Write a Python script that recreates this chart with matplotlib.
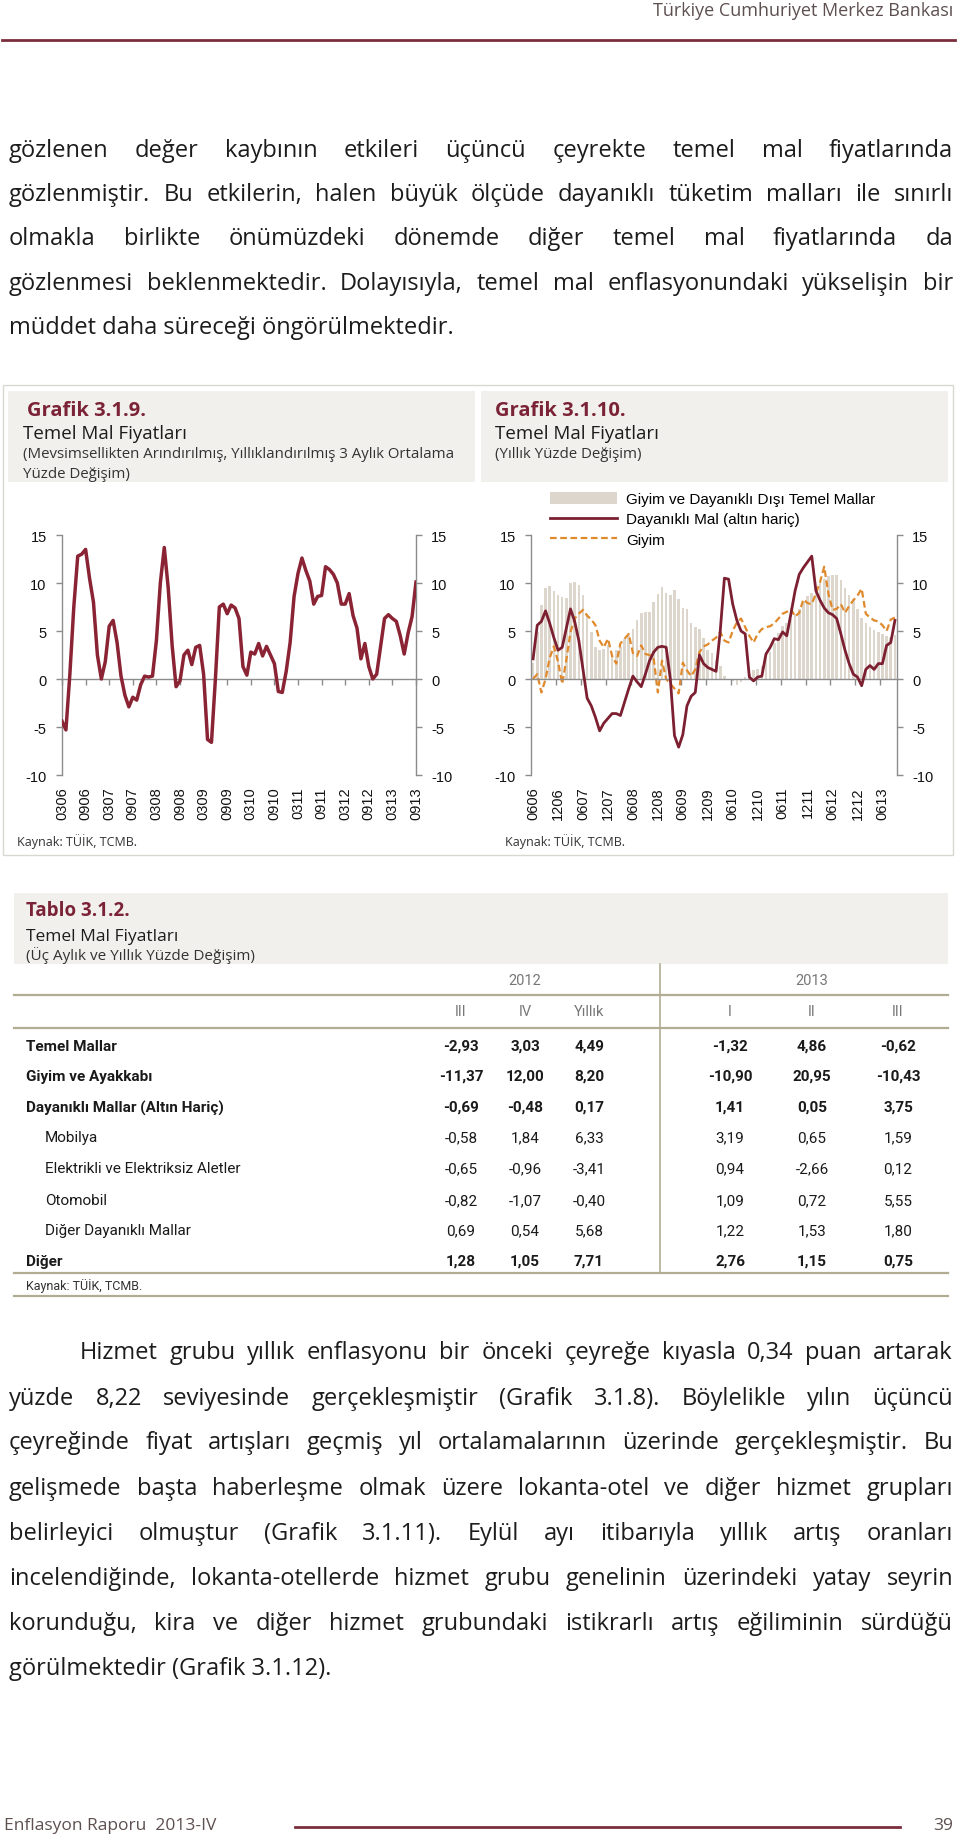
import matplotlib
matplotlib.use('Agg')
import matplotlib.pyplot as plt
from matplotlib.patches import Rectangle, Patch
from matplotlib.lines import Line2D
import numpy as np

# ---------------- data ----------------
header_title = 'Türkiye Cumhuriyet Merkez Bankası'
footer_left = 'Enflasyon Raporu  2013-IV'
footer_page = '39'

para1_lines = [
    'gözlenen değer kaybının etkileri üçüncü çeyrekte temel mal fiyatlarında',
    'gözlenmiştir. Bu etkilerin, halen büyük ölçüde dayanıklı tüketim malları ile sınırlı',
    'olmakla birlikte önümüzdeki dönemde diğer temel mal fiyatlarında da',
    'gözlenmesi beklenmektedir. Dolayısıyla, temel mal enflasyonundaki yükselişin bir',
    'müddet daha süreceği öngörülmektedir.',
]
para2_lines = [
    'Hizmet grubu yıllık enflasyonu bir önceki çeyreğe kıyasla 0,34 puan artarak',
    'yüzde 8,22 seviyesinde gerçekleşmiştir (Grafik 3.1.8). Böylelikle yılın üçüncü',
    'çeyreğinde fiyat artışları geçmiş yıl ortalamalarının üzerinde gerçekleşmiştir. Bu',
    'gelişmede başta haberleşme olmak üzere lokanta-otel ve diğer hizmet grupları',
    'belirleyici olmuştur (Grafik 3.1.11). Eylül ayı itibarıyla yıllık artış oranları',
    'incelendiğinde, lokanta-otellerde hizmet grubu genelinin üzerindeki yatay seyrin',
    'korunduğu, kira ve diğer hizmet grubundaki istikrarlı artış eğiliminin sürdüğü',
    'görülmektedir (Grafik 3.1.12).',
]

chart1_title = 'Grafik 3.1.9.'
chart1_sub = ['Temel Mal Fiyatları',
              '(Mevsimsellikten Arındırılmış, Yıllıklandırılmış 3 Aylık Ortalama',
              'Yüzde Değişim)']
chart1_xlabels = ['0306', '0906', '0307', '0907', '0308', '0908', '0309', '0909',
                  '0310', '0910', '0311', '0911', '0312', '0912', '0313', '0913']
chart1_values = [
    -4.4, -5.3, 0.5, 7.5, 12.8, 13.0, 13.5, 10.5, 8.0, 2.5,
    0.0, 1.8, 5.5, 6.1, 3.8, 0.3, -1.7, -2.9, -1.9, -2.2,
    -0.6, 0.3, 0.2, 0.3, 4.0, 10.0, 13.7, 9.5, 3.5, -0.8,
    -0.2, 2.5, 3.0, 1.5, 3.3, 3.5, 0.5, -6.3, -6.6, 0.0,
    7.5, 7.8, 6.8, 7.7, 7.4, 6.3, 1.3, 0.4, 2.8, 2.6,
    3.7, 2.4, 3.4, 2.5, 1.6, -1.3, -1.4, 0.8, 3.8, 8.6,
    11.0, 12.6, 11.3, 10.2, 7.8, 8.6, 8.7, 11.7, 11.4, 10.9,
    10.0, 7.8, 7.8, 8.9, 6.6, 5.3, 2.1, 3.7, 1.3, 0.0,
    0.5, 3.4, 6.3, 6.7, 6.3, 6.0, 4.5, 2.6, 4.8, 6.5,
    10.1]

chart2_title = 'Grafik 3.1.10.'
chart2_sub = ['Temel Mal Fiyatları', '(Yıllık Yüzde Değişim)']
chart2_xlabels = ['0606', '1206', '0607', '1207', '0608', '1208', '0609', '1209',
                  '0610', '1210', '0611', '1211', '0612', '1212', '0613']
chart2_names = ['Giyim ve Dayanıklı Dışı Temel Mallar', 'Dayanıklı Mal (altın hariç)', 'Giyim']
chart2_bars = [
    1.7, 4.9, 7.7, 9.5, 9.7, 9.2, 8.8, 8.5, 8.4, 10.0,
    10.1, 9.8, 8.7, 6.8, 4.9, 3.3, 3.0, 3.1, 3.5, 2.6,
    3.0, 3.3, 4.2, 4.7, 5.2, 6.1, 6.9, 7.0, 7.0, 8.0,
    8.9, 9.6, 9.0, 8.7, 9.3, 8.3, 7.4, 7.3, 5.8, 5.4,
    5.2, 4.3, 3.0, 2.7, 2.0, 1.4, 0.3, 0.0, -0.2, -0.6,
    -0.3, 0.2, 0.5, 0.9, 1.0, 1.4, 2.1, 2.8, 3.8, 4.8,
    5.5, 5.8, 6.2, 6.8, 7.3, 8.0, 8.6, 9.0, 9.5, 10.0,
    10.4, 10.7, 10.8, 10.8, 10.3, 9.5, 8.8, 8.3, 7.3, 6.4,
    5.8, 5.4, 5.1, 4.9, 4.7, 4.5, 4.4, 4.6]
chart2_durable = [
    2.1, 5.6, 6.0, 7.1, 5.8, 4.3, 3.0, 3.3, 5.3, 7.3,
    6.0, 4.0, 1.0, -2.0, -2.8, -4.0, -5.4, -4.6, -4.1, -3.6,
    -3.6, -3.8, -2.4, -1.0, 0.3, -0.3, -0.8, 0.5, 1.9, 2.8,
    3.3, 3.4, 3.3, 0.0, -5.9, -7.1, -5.8, -2.8, -1.8, -1.4,
    2.5, 1.6, 1.2, 1.0, 0.8, 5.0, 10.5, 10.4, 7.8, 6.1,
    5.0, 4.7, 0.2, -0.2, 0.2, 0.3, 2.6, 3.3, 4.2, 4.1,
    4.9, 4.5, 6.8, 9.2, 10.9, 11.6, 12.2, 12.8, 9.2, 8.2,
    7.4, 6.9, 6.7, 6.3, 4.7, 3.0, 1.6, 0.5, 0.2, -0.7,
    1.0, 1.4, 1.0, 1.6, 1.6, 3.5, 3.8, 6.1]
chart2_clothing = [
    0.0, 0.5, -1.4, 0.0, 2.2, 3.4, 1.8, -0.5, 2.0, 4.9,
    6.3, 6.8, 7.2, 6.6, 6.2, 5.6, 4.0, 3.3, 4.2, 2.4,
    1.6, 3.7, 4.2, 4.7, 2.7, 2.4, 3.5, 2.6, 2.5, 2.1,
    -1.4, 1.9, 0.0, -0.5, -1.0, -1.5, 1.7, 0.9, 0.3, 1.0,
    2.8, 3.4, 3.6, 4.0, 4.3, 4.9, 4.0, 3.8, 5.0, 5.9,
    6.3, 5.4, 4.5, 3.8, 4.7, 5.2, 5.4, 5.5, 5.8, 6.3,
    6.8, 7.0, 7.3, 6.5, 6.9, 8.3, 7.9, 7.8, 8.9, 10.1,
    11.7, 8.9, 7.2, 7.3, 7.8, 6.9, 7.6, 8.2, 8.7, 9.4,
    6.8, 6.4, 6.1, 6.0, 5.6, 5.0, 6.2, 6.4]
y_ticks = [-10, -5, 0, 5, 10, 15]
source_text = 'Kaynak: TÜİK, TCMB.'

table_title = 'Tablo 3.1.2.'
table_sub = ['Temel Mal Fiyatları', '(Üç Aylık ve Yıllık Yüzde Değişim)']
table_years = ['2012', '2013']
table_cols = ['III', 'IV', 'Yıllık', 'I', 'II', 'III']
table_rows = ['Temel Mallar', 'Giyim ve Ayakkabı', 'Dayanıklı Mallar (Altın Hariç)',
              'Mobilya', 'Elektrikli ve Elektriksiz Aletler', 'Otomobil',
              'Diğer Dayanıklı Mallar', 'Diğer']
table_row_bold = [True, True, True, False, False, False, False, True]
t2012_III = [-2.93, -11.37, -0.69, -0.58, -0.65, -0.82, 0.69, 1.28]
t2012_IV = [3.03, 12.00, -0.48, 1.84, -0.96, -1.07, 0.54, 1.05]
t2012_Y = [4.49, 8.20, 0.17, 6.33, -3.41, -0.40, 5.68, 7.71]
t2013_I = [-1.32, -10.90, 1.41, 3.19, 0.94, 1.09, 1.22, 2.76]
t2013_II = [4.86, 20.95, 0.05, 0.65, -2.66, 0.72, 1.53, 1.15]
t2013_III = [-0.62, -10.43, 3.75, 1.59, 0.12, 5.55, 1.80, 0.75]

# ---------------- styling ----------------
W, H = 960, 1840
BODY = 'Open Sans'
ARIAL = 'Liberation Sans'
NARROW = 'Roboto'
MAROON = '#7b2336'
TEXT = '#1c1c1c'
GREY_AX = '#8c8c8c'
BG = '#f2f0ec'
BODY_SIZE = 17

fig = plt.figure(figsize=(W / 100, H / 100), dpi=100)
fig.patch.set_facecolor('white')
renderer = fig.canvas.get_renderer()


def fx(x):
    return x / W


def fy(y):
    return 1 - y / H


def hline(x0, x1, y, color, lw):
    fig.add_artist(Line2D([fx(x0), fx(x1)], [fy(y), fy(y)], transform=fig.transFigure,
                          color=color, lw=lw))


def vline(x, y0, y1, color, lw):
    fig.add_artist(Line2D([fx(x), fx(x)], [fy(y0), fy(y1)], transform=fig.transFigure,
                          color=color, lw=lw))


def rect(x0, y0, x1, y1, fc, ec='none', lw=0, z=-5):
    fig.add_artist(Rectangle((fx(x0), fy(y1)), (x1 - x0) / W, (y1 - y0) / H,
                             transform=fig.transFigure, facecolor=fc, edgecolor=ec,
                             lw=lw, zorder=z))


def text_line(s, y, x0, x1, size, justify, family=BODY, color=TEXT):
    base = fy(y + 7)
    if not justify:
        fig.text(fx(x0), base, s, fontsize=size, family=family, color=color,
                 va='baseline', ha='left')
        return
    words = s.split()
    while True:
        objs, widths = [], []
        for w in words:
            t = fig.text(0, base, w, fontsize=size, family=family, color=color,
                         va='baseline', ha='left')
            objs.append(t)
            widths.append(t.get_window_extent(renderer).width)
        gap = (x1 - x0 - sum(widths)) / (len(words) - 1)
        if gap >= size * 0.28 or size < 10:
            break
        for t in objs:
            t.remove()
        size -= 0.25
    x = x0
    for t, w in zip(objs, widths):
        t.set_x(fx(x))
        x += w + gap


# ---------------- header / footer ----------------
fig.text(fx(953), fy(11), header_title, fontsize=13, family=BODY, color='#5e5050',
         ha='right', va='center')
hline(2, 955, 41, '#7a2e3b', 2.0)

fig.text(fx(4), fy(1826), footer_left, fontsize=12.5, family=BODY, color='#5e5050',
         ha='left', va='center')
fig.text(fx(953), fy(1826), footer_page, fontsize=12.5, family=BODY, color='#5e5050',
         ha='right', va='center')
hline(295, 900, 1828, '#7a2e3b', 2.0)

# ---------------- paragraphs ----------------
p1_y = [150, 194, 238, 283, 327]
for i, (s, y) in enumerate(zip(para1_lines, p1_y)):
    text_line(s, y, 9, 953, BODY_SIZE, i < len(para1_lines) - 1)

p2_y = [1352, 1398, 1442, 1488, 1533, 1578, 1623, 1668]
for i, (s, y) in enumerate(zip(para2_lines, p2_y)):
    x0 = 80 if i == 0 else 9
    text_line(s, y, x0, 953, BODY_SIZE, i < len(para2_lines) - 1)

# ---------------- chart panel frame and titles ----------------
rect(3, 386, 953, 856, 'none', ec='#d9d8d0', lw=1.0, z=-6)
rect(8, 392, 475, 483, BG)
rect(481, 392, 948, 483, BG)

fig.text(fx(27), fy(411), chart1_title, fontsize=14.5, family=BODY, weight='bold',
         color=MAROON, va='center')
fig.text(fx(23), fy(434), chart1_sub[0], fontsize=13.5, family=BODY, color=TEXT, va='center')
fig.text(fx(23), fy(455), chart1_sub[1], fontsize=10.8, family=BODY, color='#333333', va='center')
fig.text(fx(23), fy(475), chart1_sub[2], fontsize=10.8, family=BODY, color='#333333', va='center')

fig.text(fx(495), fy(411), chart2_title, fontsize=14.5, family=BODY, weight='bold',
         color=MAROON, va='center')
fig.text(fx(495), fy(434), chart2_sub[0], fontsize=13.5, family=BODY, color=TEXT, va='center')
fig.text(fx(495), fy(455), chart2_sub[1], fontsize=10.8, family=BODY, color='#333333', va='center')

fig.text(fx(17), fy(842), source_text, fontsize=9, family=BODY, color='#333333', va='center')
fig.text(fx(505), fy(842), source_text, fontsize=9, family=BODY, color='#333333', va='center')


def style_axes(ax, tick_pos, label_pos, labels):
    ax.set_facecolor('none')
    ax.set_ylim(-10, 15)
    ax.set_yticks(y_ticks)
    ax.set_yticklabels([str(v) for v in y_ticks])
    ax.spines['top'].set_visible(False)
    for s in ['left', 'right']:
        ax.spines[s].set_color(GREY_AX)
        ax.spines[s].set_linewidth(1.0)
    ax.spines['bottom'].set_position(('data', 0))
    ax.spines['bottom'].set_color(GREY_AX)
    ax.spines['bottom'].set_linewidth(1.0)
    ax.tick_params(axis='y', left=True, right=True, labelleft=True, labelright=True,
                   direction='out', length=4, width=1, color=GREY_AX,
                   labelsize=10.5, pad=7, labelcolor='#111111')
    for lab in ax.get_yticklabels():
        lab.set_family(ARIAL)
    ax.set_xticks(tick_pos)
    ax.tick_params(axis='x', direction='out', length=4, width=1, color=GREY_AX,
                   labelbottom=False)
    sec = ax.secondary_xaxis('bottom')
    sec.set_xticks(label_pos)
    sec.set_xticklabels(labels, rotation=90, fontsize=10.5, family=ARIAL, color='#111111')
    sec.tick_params(length=0, pad=8)
    sec.spines['bottom'].set_visible(False)


# ---------------- chart 1 ----------------
ax1 = fig.add_axes([fx(62), fy(776), (416 - 62) / W, (776 - 536) / H])
n1 = len(chart1_values)
x1 = np.arange(n1)
ax1.plot(x1, chart1_values, color='#8a2434', lw=2.5, solid_joinstyle='round', zorder=3)
ax1.set_xlim(0, n1 - 1)
pos1 = np.arange(0, n1, 6)
style_axes(ax1, pos1, pos1, chart1_xlabels)

# ---------------- chart 2 ----------------
ax2 = fig.add_axes([fx(531), fy(776), (897 - 531) / W, (776 - 536) / H])
n2 = len(chart2_bars)
x2 = np.arange(n2)
ax2.bar(x2, chart2_bars, width=0.62, color='#ddd6cd', zorder=1)
ax2.plot(x2, chart2_durable, color='#7c1f30', lw=2.0, zorder=3)
ax2.plot(x2, chart2_clothing, color='#e08a2e', lw=1.6, ls=(0, (3, 1.6)), zorder=2)
ax2.set_xlim(-0.5, n2 - 0.5)
style_axes(ax2, np.arange(5.5, n2 - 1, 6), np.arange(0, n2, 6), chart2_xlabels)
handles = [Patch(facecolor='#ddd6cd', edgecolor='none'),
           Line2D([], [], color='#7c1f30', lw=2.0),
           Line2D([], [], color='#e08a2e', lw=1.6, ls=(0, (3, 1.6)))]
ax2.legend(handles, chart2_names, loc='upper left',
           bbox_to_anchor=(fx(550), fy(493)), bbox_transform=fig.transFigure,
           frameon=False, handlelength=4.4, handleheight=0.8,
           handletextpad=0.6, labelspacing=0.4, borderpad=0, borderaxespad=0,
           prop={'family': ARIAL, 'size': 11})

# ---------------- table ----------------
rect(14, 894, 948, 965, BG)
fig.text(fx(26), fy(911), table_title, fontsize=13.5, family=BODY, weight='bold',
         color=MAROON, va='center')
fig.text(fx(26), fy(937), table_sub[0], fontsize=12.5, family=BODY, color=TEXT, va='center')
fig.text(fx(26), fy(956), table_sub[1], fontsize=11, family=BODY, color='#333333', va='center')

col_x = [461, 525, 589, 730, 812, 898]
year_x = [525, 812]
row_y = [1047, 1077, 1108, 1138, 1169, 1201, 1231, 1262]
LINE_C = '#b1ad93'
for yx, yr in zip(year_x, table_years):
    fig.text(fx(yx), fy(981), yr, fontsize=10.5, family=NARROW, color='#777777',
             ha='center', va='center')
for cx, cl in zip(col_x, table_cols):
    fig.text(fx(cx), fy(1012), cl, fontsize=10.5, family=NARROW, color='#777777',
             ha='center', va='center')
hline(14, 948, 996, LINE_C, 1.6)
hline(14, 948, 1029, LINE_C, 1.6)
hline(14, 948, 1274, LINE_C, 1.6)
hline(14, 948, 1297, LINE_C, 1.6)
vline(660, 965, 1274, LINE_C, 1.2)

columns = [t2012_III, t2012_IV, t2012_Y, t2013_I, t2013_II, t2013_III]
for r, (name, bold, y) in enumerate(zip(table_rows, table_row_bold, row_y)):
    w = 'bold' if bold else 'normal'
    xl = 26 if bold else 45
    fig.text(fx(xl), fy(y), name, fontsize=11, family=NARROW, weight=w,
             color='#1a1a1a', va='center')
    for cx, col in zip(col_x, columns):
        s = f'{col[r]:.2f}'.replace('.', ',')
        fig.text(fx(cx), fy(y), s, fontsize=11, family=NARROW, weight=w,
                 color='#1a1a1a', ha='center', va='center')
fig.text(fx(26), fy(1286), source_text, fontsize=9, family=NARROW, color='#333333', va='center')

fig.savefig('out.png', dpi=100, facecolor='white')
